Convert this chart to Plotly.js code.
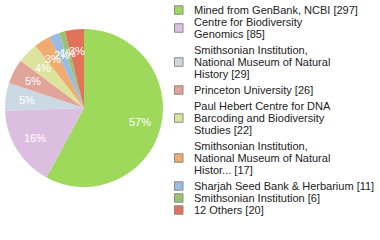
<!DOCTYPE html>
<html>
<head>
<meta charset="utf-8">
<script src="https://cdn.plot.ly/plotly-3.0.1.min.js"></script>
<style>html,body{margin:0;padding:0;background:#fff;}#chart{width:380px;height:240px;}</style>
</head>
<body>
<div id="chart"></div>
<script>
const categories = [
  "Mined from GenBank, NCBI",
  "Centre for Biodiversity Genomics",
  "Smithsonian Institution, National Museum of Natural History",
  "Princeton University",
  "Paul Hebert Centre for DNA Barcoding and Biodiversity Studies",
  "Smithsonian Institution, National Museum of Natural Histor...",
  "Sharjah Seed Bank & Herbarium",
  "Smithsonian Institution",
  "12 Others"
];
const values = [297, 85, 29, 26, 22, 17, 11, 6, 20];
const legendLines = [
  ["Mined from GenBank, NCBI [297]"],
  ["Centre for Biodiversity", "Genomics [85]"],
  ["Smithsonian Institution,", "National Museum of Natural", "History [29]"],
  ["Princeton University [26]"],
  ["Paul Hebert Centre for DNA", "Barcoding and Biodiversity", "Studies [22]"],
  ["Smithsonian Institution,", "National Museum of Natural", "Histor... [17]"],
  ["Sharjah Seed Bank & Herbarium [11]"],
  ["Smithsonian Institution [6]"],
  ["12 Others [20]"]
];
const colors = ["#9fd95c", "#dcbee0", "#cbd9e5", "#e0a499", "#dde29d", "#f0ab6e", "#9abce2", "#98c46f", "#e0735a"];

const W = 380, H = 240;
// pie placement (pixels)
const pcx = 84, pcy = 108, pr = 79;
const px = v => v / W, py = v => 1 - v / H;

const total = values.reduce((a, b) => a + b, 0);
const annotations = [];
const shapes = [];

// slice labels
let cum = 0;
values.forEach((v, i) => {
  const mid = (cum + v / 2) / total * 2 * Math.PI;
  cum += v;
  const rr = pr * 0.73;
  const x = pcx + rr * Math.sin(mid);
  const y = pcy - rr * Math.cos(mid);
  annotations.push({
    xref: "paper", yref: "paper", x: px(x), y: py(y),
    xanchor: "center", yanchor: "middle", showarrow: false,
    text: Math.floor(v / total * 100) + "%",
    font: {family: "Liberation Sans, Arial, sans-serif", size: 11, color: "#ffffff"}
  });
});

// legend
const lineH = 12, textX = 192, sqX = 174.5, sq = 8.5;
let y = 10;
legendLines.forEach((lines, i) => {
  if (i > 0) {
    const gap = (lines.length >= 3 || legendLines[i - 1].length >= 3) ? 4 : 0;
    y += legendLines[i - 1].length * lineH + gap;
  }
  lines.forEach((ln, j) => {
    annotations.push({
      xref: "paper", yref: "paper", x: px(textX), y: py(y + j * lineH),
      xanchor: "left", yanchor: "middle", showarrow: false,
      text: ln.replace(/&/g, "&amp;"),
      font: {family: "Liberation Sans, Arial, sans-serif", size: 11, color: "#222222"}
    });
  });
  const cy = y + (lines.length - 1) * lineH / 2;
  shapes.push({
    type: "rect", xref: "paper", yref: "paper",
    x0: px(sqX), x1: px(sqX + sq), y0: py(cy - sq / 2), y1: py(cy + sq / 2),
    fillcolor: colors[i], line: {color: "#8a8a8a", width: 1}
  });
});

const trace = {
  type: "pie",
  labels: categories,
  values: values,
  sort: false,
  direction: "clockwise",
  rotation: 0,
  textinfo: "none",
  hoverinfo: "label+value",
  marker: {colors: colors, line: {width: 0}},
  domain: {x: [px(pcx - pr), px(pcx + pr)], y: [py(pcy + pr), py(pcy - pr)]},
  showlegend: false
};

Plotly.newPlot("chart", [trace], {
  width: W, height: H, autosize: false,
  margin: {l: 0, r: 0, t: 0, b: 0},
  paper_bgcolor: "#ffffff",
  showlegend: false,
  annotations: annotations,
  shapes: shapes
}, {staticPlot: true, displayModeBar: false});
</script>
</body>
</html>
